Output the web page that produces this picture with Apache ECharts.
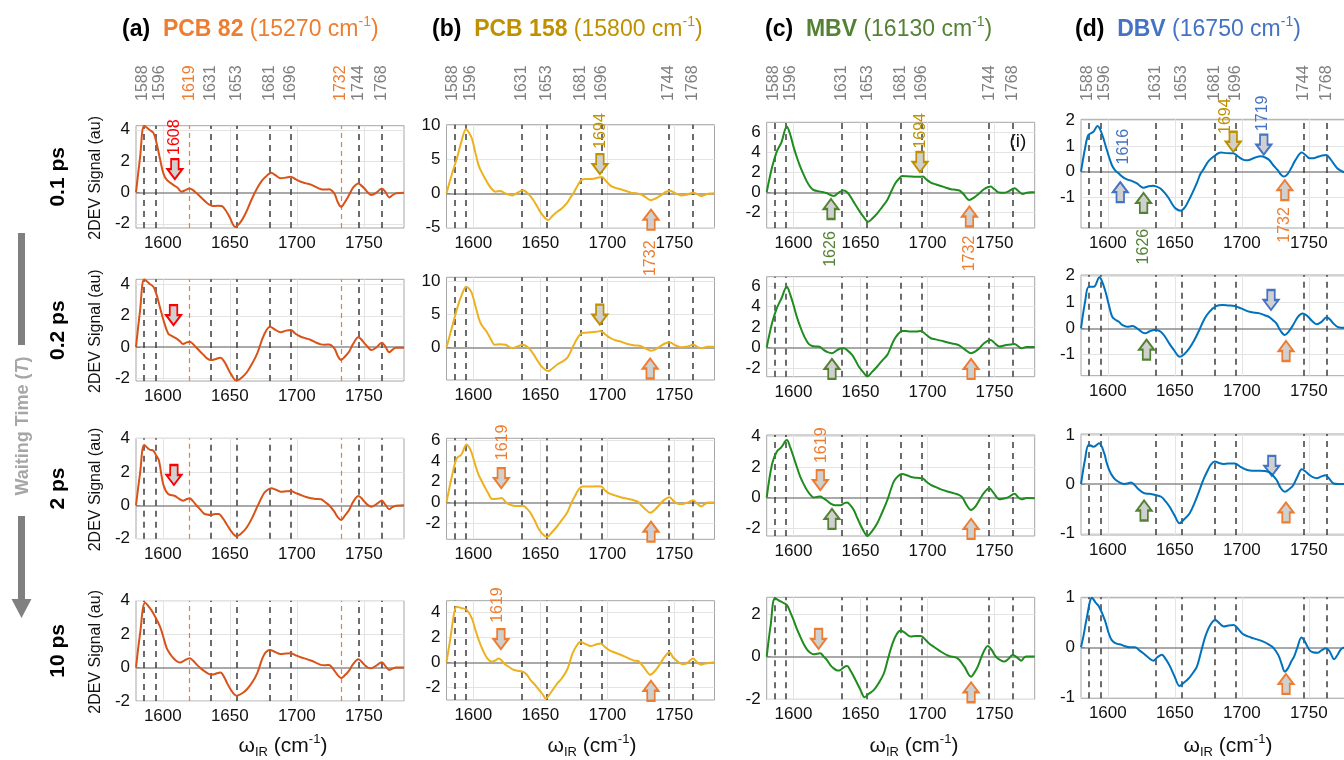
<!DOCTYPE html>
<html><head><meta charset="utf-8">
<script src="https://cdn.jsdelivr.net/npm/echarts@6/dist/echarts.min.js"></script>
<style>html,body{margin:0;padding:0;background:#fff}#c{width:1344px;height:760px}</style>
</head><body><div id="c"></div>
<script>
const FONT = '"Liberation Sans", Arial, sans-serif';
const X_MIN = 1580, X_MAX = 1780;
const xTicks = [1600, 1650, 1700, 1750];
const peakPos = [1586, 1594.5, 1620, 1636, 1655, 1680, 1695.5, 1733, 1746, 1763.5];
const peakLabels = ['1588','1596','1619','1631','1653','1681','1696','1732','1744','1768'];
const orangePeaks = ['1619','1732'];
const columnNames = ['(a)','(b)','(c)','(d)'];
const samples = ['PCB 82','PCB 158','MBV','DBV'];
const excitations = ['15270','15800','16130','16750'];
const waitingTimes = ['0.1 ps','0.2 ps','2 ps','10 ps'];

// PCB 82
const a1 = [[1580,0],[1583,2.2],[1586.2,4.26],[1590,4.0],[1593,3.8],[1595.5,3.1],[1598,2.1],[1600.5,1.2],[1603,0.8],[1608,0.47],[1611,0.3],[1614,0.05],[1617,0.15],[1620,0.25],[1622.5,0.15],[1625.5,-0.07],[1629,-0.35],[1632,-0.6],[1635,-0.8],[1638,-0.87],[1641,-0.85],[1644,-0.87],[1647,-1.15],[1650,-1.6],[1654,-2.2],[1658,-1.9],[1662,-1.3],[1666,-0.5],[1670,0.2],[1674,0.75],[1678,1.1],[1681,1.25],[1684,1.1],[1688,0.9],[1692,0.95],[1695.5,1.0],[1699,0.85],[1703,0.68],[1707,0.58],[1710.5,0.5],[1714,0.35],[1718,0.2],[1721,0.18],[1724,0.2],[1728,-0.07],[1730.5,-0.6],[1733,-0.92],[1736,-0.6],[1739,-0.17],[1742,0.3],[1746,0.57],[1748,0.45],[1750.5,0.25],[1753,0.0],[1755.5,-0.17],[1759,-0.05],[1763.5,0.25],[1766,0.05],[1769,-0.32],[1771,-0.2],[1774,-0.06],[1777,-0.03],[1780,-0.02]];
const a2 = [[1580,0],[1583,2.3],[1586.2,4.33],[1590,4.05],[1593,3.85],[1595.5,3.3],[1598,2.5],[1600.5,1.72],[1604,0.87],[1607,0.7],[1610,0.55],[1613,0.35],[1615,0.19],[1618,0.3],[1620,0.34],[1622.5,0.2],[1625.5,-0.08],[1628,-0.3],[1630.5,-0.51],[1633,-0.72],[1636,-0.83],[1639,-0.78],[1643,-0.68],[1646,-0.95],[1648,-1.26],[1651,-1.75],[1655,-2.15],[1659,-1.95],[1663,-1.58],[1667,-1.0],[1670.5,-0.4],[1675.5,0.77],[1680,1.3],[1684,1.1],[1688,0.94],[1692,1.05],[1695.5,1.09],[1699,0.85],[1703,0.66],[1707,0.55],[1710.5,0.45],[1714,0.3],[1718,0.17],[1721,0.15],[1724,0.17],[1728,-0.08],[1730.5,-0.55],[1733,-0.83],[1736,-0.6],[1739,-0.3],[1742,0.2],[1746,0.62],[1748,0.5],[1750.5,0.24],[1753,0.0],[1755.5,-0.19],[1759,-0.05],[1763.5,0.27],[1766,0.05],[1769,-0.34],[1771,-0.2],[1774,-0.04],[1777,-0.04],[1780,-0.04]];
const a3 = [[1580,0],[1583,1.9],[1586.2,3.62],[1590,3.35],[1593,3.28],[1595,3.0],[1597,2.72],[1600.5,1.22],[1604,0.68],[1609,0.56],[1612,0.4],[1615,0.28],[1618,0.38],[1620,0.42],[1622.5,0.25],[1625.5,-0.04],[1628,-0.25],[1630.5,-0.48],[1633,-0.55],[1636,-0.58],[1639,-0.52],[1641.7,-0.52],[1645,-0.8],[1648,-1.18],[1651,-1.55],[1655,-1.84],[1659,-1.65],[1663,-1.28],[1667,-0.7],[1670.5,-0.08],[1675.5,0.72],[1678,0.92],[1681,1.02],[1684,0.95],[1688,0.82],[1692,0.84],[1695.5,0.86],[1699,0.75],[1703,0.62],[1707,0.5],[1710.5,0.42],[1714,0.38],[1718,0.36],[1721,0.2],[1724,0.02],[1728,-0.38],[1730.5,-0.7],[1733,-0.88],[1736,-0.6],[1739,-0.28],[1742,0.2],[1746,0.56],[1748,0.45],[1750.5,0.22],[1753,0.02],[1755.5,-0.08],[1759,0.05],[1763.5,0.28],[1766,0.05],[1769,-0.24],[1771,-0.12],[1774,-0.02],[1780,0]];
const a4 = [[1580,0],[1583,2.0],[1586.8,3.88],[1590,3.6],[1593,3.23],[1598,2.43],[1600.5,1.8],[1603,1.15],[1606,0.75],[1608,0.56],[1611,0.35],[1613,0.3],[1616,0.42],[1620,0.56],[1622.5,0.42],[1625.5,0.16],[1628,-0.02],[1630.5,-0.18],[1633,-0.32],[1636,-0.43],[1639,-0.38],[1643,-0.3],[1646,-0.6],[1648,-0.93],[1651,-1.35],[1655,-1.68],[1659,-1.55],[1663,-1.28],[1667,-0.85],[1670.5,-0.33],[1675.5,0.75],[1680,1.05],[1684,0.92],[1688,0.81],[1692,0.84],[1695.5,0.85],[1699,0.74],[1703,0.62],[1707,0.52],[1710.5,0.42],[1714,0.3],[1718,0.16],[1721,0.14],[1724,0.16],[1728,-0.18],[1730.5,-0.45],[1733,-0.63],[1736,-0.45],[1739,-0.18],[1742,0.2],[1746,0.5],[1748,0.38],[1750.5,0.16],[1753,0.0],[1755.5,-0.04],[1759,0.1],[1763.5,0.32],[1766,0.1],[1769,-0.14],[1771,-0.08],[1774,0],[1780,0]];
// PCB 158
const b1 = [[1580,0],[1584,2.8],[1588,5.3],[1591,7.5],[1594.6,9.4],[1597,8.8],[1599,8.0],[1601.5,6.0],[1604,4.1],[1606.5,3.0],[1609,2.1],[1612,1.1],[1614.5,0.5],[1616.4,0.25],[1620,0.35],[1624,0.0],[1629,-0.3],[1633,0.1],[1637,0.45],[1641.4,-0.15],[1644.5,-0.9],[1647.6,-1.9],[1651,-3.0],[1655.9,-3.9],[1659,-3.3],[1662.6,-2.7],[1666,-2.2],[1670,-1.4],[1672.5,-0.6],[1675,0.1],[1678,1.2],[1681,2.0],[1684,2.1],[1687.6,2.1],[1692,2.25],[1696,2.4],[1699,1.8],[1702.6,1.1],[1706,0.8],[1710,0.6],[1714,0.35],[1717.6,0.1],[1722.6,0.0],[1727,-0.35],[1732.6,-1.0],[1736,-0.75],[1740,-0.3],[1743.5,0.2],[1747,0.35],[1751,0.0],[1755,-0.3],[1759,-0.2],[1764.4,0.1],[1767,-0.1],[1770,-0.4],[1773,-0.2],[1775,-0.05],[1780,0]];
const b2 = [[1580,0],[1584,3.0],[1588,5.96],[1591,7.8],[1594.8,9.24],[1597,8.9],[1599,8.2],[1602,6.0],[1605,3.9],[1608,2.9],[1610,2.4],[1613,1.3],[1616,0.4],[1620,0.5],[1624,0.4],[1629,-0.1],[1633,0.15],[1637,0.4],[1641.4,-0.1],[1644.5,-0.9],[1647.6,-1.9],[1651,-2.9],[1656,-3.6],[1659,-3.2],[1662.6,-2.6],[1666,-2.2],[1670,-1.6],[1672.5,-0.7],[1675,0.4],[1678,1.5],[1681,2.2],[1684,2.25],[1687.6,2.3],[1692,2.4],[1695,2.5],[1699,1.9],[1702.6,1.4],[1706,1.1],[1710,0.9],[1714,0.6],[1717.6,0.4],[1721,0.3],[1724,0.25],[1728,-0.1],[1732.6,-0.5],[1736,-0.3],[1740,0.25],[1743,0.6],[1746.6,0.8],[1750,0.4],[1755,0.05],[1759,0.1],[1764.4,0.4],[1767,0.1],[1770,-0.1],[1775,0.1],[1780,0.1]];
const b3 = [[1580,0],[1584,2.5],[1587.6,4.26],[1591,4.6],[1595,5.6],[1597,5.3],[1599,4.7],[1601.5,3.6],[1604,2.66],[1606.5,2.0],[1609,1.38],[1611.5,0.8],[1614,0.32],[1617.5,0.35],[1621,0.42],[1625,-0.06],[1630,-0.32],[1634,-0.35],[1637,-0.32],[1640,-0.6],[1642.6,-1.0],[1646,-1.8],[1649,-2.6],[1652,-3.1],[1655,-3.33],[1658.5,-2.9],[1662.6,-2.3],[1666,-1.7],[1670,-1.0],[1673,-0.1],[1676.4,0.74],[1679,1.3],[1681.4,1.54],[1687.7,1.54],[1692,1.55],[1695.6,1.54],[1698,1.2],[1701,0.9],[1705,0.7],[1710,0.5],[1715,0.35],[1720,0.2],[1723,0.05],[1725,-0.22],[1728,-0.6],[1732,-1.0],[1735.5,-0.7],[1739,-0.22],[1742.5,0.25],[1746.4,0.5],[1749,0.2],[1752.6,-0.13],[1756,-0.15],[1759,-0.06],[1764,0.2],[1767,-0.1],[1770,-0.4],[1773,-0.15],[1775,0],[1780,0]];
const b4 = [[1580,0],[1583,2.0],[1585.5,3.8],[1587.6,4.45],[1591,4.35],[1595,4.2],[1599,3.5],[1601.5,2.6],[1604,1.8],[1607,1.0],[1610.6,0.3],[1614,0.05],[1616.5,0.15],[1619,0.3],[1621.5,0.1],[1624,-0.2],[1627,-0.4],[1630,-0.6],[1634,-0.7],[1637,-0.75],[1640,-1.0],[1642.6,-1.4],[1646,-1.8],[1649,-2.2],[1652,-2.6],[1654,-2.9],[1658,-2.4],[1662.6,-1.7],[1666,-1.3],[1670,-0.6],[1672,0.0],[1674,0.7],[1677,1.3],[1680,1.65],[1684,1.45],[1687.7,1.3],[1691,1.4],[1695,1.5],[1698,1.25],[1701,1.0],[1705,0.8],[1710,0.6],[1715,0.35],[1720,0.13],[1723,0.1],[1725,-0.1],[1728,-0.5],[1732,-1.0],[1735.5,-0.7],[1739,-0.2],[1742.5,0.4],[1746.4,0.8],[1749,0.4],[1752.6,0.05],[1756,-0.15],[1759,-0.1],[1764,0.3],[1767,0.0],[1770,-0.2],[1773,-0.1],[1780,0]];
// MBV
const c1 = [[1580,0],[1584,2.5],[1587.5,4.07],[1591,5.0],[1595,6.57],[1597.5,5.8],[1600,4.57],[1602.5,3.5],[1605,2.57],[1607.5,1.8],[1610,1.07],[1612.5,0.55],[1615,0.23],[1620,0.07],[1625,-0.1],[1628,-0.3],[1630,-0.37],[1634,0.0],[1637.5,0.17],[1640,0.0],[1642.5,-0.43],[1645.5,-1.1],[1648.7,-1.77],[1652,-2.4],[1655.7,-2.95],[1659,-2.6],[1662.5,-2.1],[1666,-1.5],[1670,-0.77],[1673,0.1],[1676,0.9],[1679,1.4],[1681,1.63],[1685,1.6],[1688.7,1.57],[1693,1.55],[1696.7,1.57],[1699,1.3],[1702.5,0.97],[1706,0.8],[1710,0.63],[1714,0.45],[1717.5,0.3],[1721,0.25],[1724,0.17],[1727,-0.2],[1731,-0.77],[1735,-0.5],[1738.7,-0.1],[1742,0.3],[1747,0.57],[1750,0.3],[1753.5,-0.03],[1757,-0.05],[1760,0.07],[1765,0.4],[1768,0.1],[1771,-0.17],[1774,-0.05],[1777,0],[1780,0]];
const c2 = [[1580,0],[1584,2.4],[1587.5,3.84],[1591,4.8],[1595,5.95],[1597.5,5.2],[1600,4.16],[1602.5,3.0],[1605,2.05],[1608,1.1],[1611,0.42],[1614,0.15],[1617.5,0.1],[1620,0.05],[1622.5,-0.23],[1625.5,-0.45],[1628.7,-0.55],[1632,-0.3],[1635,-0.1],[1637.5,-0.07],[1640,-0.25],[1643.7,-0.72],[1646,-1.2],[1648.7,-1.85],[1652,-2.4],[1655,-2.83],[1658.5,-2.4],[1662.5,-1.85],[1666,-1.3],[1670,-0.72],[1672.5,0.0],[1675,0.75],[1678,1.3],[1681,1.63],[1685,1.6],[1688.7,1.56],[1692,1.58],[1695,1.63],[1699,1.25],[1702.5,0.91],[1706,0.8],[1710,0.68],[1715,0.5],[1720,0.36],[1723,0.25],[1725,0.1],[1728.5,-0.25],[1732.5,-0.55],[1736,-0.35],[1738.7,-0.07],[1742,0.4],[1747,0.75],[1750,0.45],[1753.7,0.1],[1756,0.15],[1758.7,0.26],[1762,0.3],[1765,0.36],[1767.5,0.15],[1770,-0.07],[1774,0.05],[1780,0.05]];
const c3 = [[1580,0],[1584,2.2],[1587.5,3.0],[1591,3.3],[1595,3.76],[1597.5,3.3],[1600,2.67],[1602.5,2.0],[1605,1.37],[1607.5,0.9],[1610,0.5],[1612.5,0.2],[1615,0.02],[1617.5,0.05],[1620,0.07],[1622.5,-0.05],[1625,-0.2],[1628,-0.4],[1631,-0.5],[1635,-0.5],[1638,-0.35],[1640,-0.31],[1642.5,-0.5],[1645,-0.8],[1647.5,-1.3],[1650,-1.78],[1652.5,-2.2],[1655,-2.5],[1658.5,-2.2],[1662.5,-1.67],[1666,-1.0],[1670,-0.16],[1672.5,0.5],[1675,1.08],[1678,1.4],[1681,1.54],[1685,1.45],[1688.7,1.33],[1692,1.3],[1696.5,1.26],[1699,1.05],[1702.5,0.83],[1706,0.7],[1710,0.54],[1715,0.4],[1720,0.28],[1723,0.2],[1726,0.02],[1729,-0.45],[1732.5,-0.8],[1735.5,-0.6],[1738.7,-0.16],[1742,0.3],[1746.2,0.61],[1749,0.35],[1753.7,-0.11],[1757,-0.05],[1760,0.02],[1765,0.25],[1767.5,0.05],[1770,-0.11],[1774,-0.02],[1780,-0.04]];
const c4 = [[1580,0],[1583,1.5],[1586.2,2.73],[1590,2.6],[1595,2.42],[1597.5,2.1],[1600,1.72],[1602.5,1.3],[1605,0.94],[1607.5,0.6],[1610,0.34],[1612.5,0.18],[1615,0.11],[1617.5,0.13],[1620,0.16],[1622.5,0.0],[1625,-0.16],[1627.5,-0.4],[1630,-0.55],[1633,-0.65],[1635,-0.63],[1637.5,-0.5],[1640,-0.44],[1642.5,-0.65],[1645,-0.94],[1647.5,-1.25],[1650,-1.56],[1653,-1.9],[1656,-1.75],[1660,-1.56],[1663.5,-1.25],[1667.5,-0.78],[1670.5,-0.1],[1674,0.63],[1677,1.05],[1680,1.22],[1683.5,1.1],[1687.5,0.94],[1691,0.97],[1695,0.97],[1698,0.82],[1701,0.63],[1705,0.45],[1710,0.23],[1716,0.03],[1722.5,-0.08],[1727.5,-0.47],[1732.5,-0.94],[1735,-0.75],[1737.5,-0.47],[1741,0.1],[1745,0.5],[1748,0.3],[1751,0.0],[1754,-0.15],[1757.5,-0.23],[1760.5,-0.1],[1763.7,0.08],[1767,-0.05],[1770,-0.19],[1772,-0.05],[1774,0],[1780,0]];
// DBV
const d1 = [[1580,0],[1583,0.9],[1585.5,1.42],[1589.3,1.55],[1592.3,1.77],[1595.5,1.48],[1599.3,0.84],[1603,0.26],[1605.5,0.05],[1608,-0.06],[1611,-0.2],[1614.3,-0.3],[1618,-0.36],[1621.8,-0.45],[1624,-0.55],[1626.8,-0.62],[1630,-0.57],[1633.8,-0.54],[1636.5,-0.58],[1639.3,-0.65],[1642.5,-0.82],[1645.5,-1.03],[1648,-1.25],[1650.5,-1.42],[1654.3,-1.51],[1657.5,-1.38],[1660.5,-1.1],[1663.5,-0.78],[1666.8,-0.39],[1669,-0.1],[1671.8,0.13],[1675,0.4],[1678.8,0.58],[1684.3,0.74],[1689,0.72],[1693.8,0.71],[1697,0.6],[1700.5,0.48],[1703,0.44],[1705.5,0.45],[1710,0.55],[1714.3,0.6],[1717.5,0.55],[1720.5,0.45],[1723.5,0.25],[1726.8,0.06],[1729,-0.1],[1731.3,-0.19],[1734,-0.1],[1736.8,0.13],[1740,0.45],[1744.8,0.74],[1747.5,0.65],[1750.5,0.52],[1753.5,0.52],[1756.8,0.58],[1760,0.63],[1763,0.65],[1766,0.5],[1769.3,0.26],[1772,0.1],[1775.5,0],[1778,-0.03],[1780,-0.04]];
const d2 = [[1580,0],[1583,1.0],[1585.8,1.58],[1589.5,1.58],[1593.8,1.94],[1596,1.75],[1598.3,1.39],[1601,0.85],[1603.3,0.44],[1606,0.32],[1608.3,0.25],[1611,0.12],[1614.5,0.06],[1618.3,0.09],[1620.5,0.05],[1623.3,-0.06],[1627.8,-0.19],[1631,-0.12],[1634.5,-0.06],[1637,-0.07],[1639.5,-0.13],[1642.5,-0.3],[1645.8,-0.57],[1649,-0.8],[1653.8,-1.08],[1657,-0.98],[1660.8,-0.76],[1664.5,-0.45],[1668.3,-0.06],[1672,0.35],[1675.8,0.63],[1680.8,0.85],[1685.8,0.89],[1690,0.87],[1694.5,0.85],[1699.5,0.76],[1705.8,0.63],[1713.3,0.57],[1717,0.5],[1720.8,0.42],[1723.5,0.3],[1725.8,0.19],[1729,-0.1],[1732,-0.25],[1735,-0.12],[1738.3,0.13],[1742,0.45],[1745.3,0.57],[1747.5,0.52],[1749.5,0.44],[1752.5,0.28],[1755.8,0.16],[1759.5,0.25],[1763.3,0.42],[1766,0.33],[1768.3,0.19],[1772,0.04],[1776,0.02],[1780,0.0]];
const d3 = [[1580,0],[1583,0.5],[1585.8,0.8],[1589.5,0.76],[1593.5,0.83],[1597.3,0.63],[1599,0.45],[1601,0.29],[1603.5,0.16],[1606,0.08],[1609,0.03],[1612.3,0],[1614.8,0.01],[1617.3,0.03],[1620,-0.02],[1622.3,-0.09],[1627.3,-0.19],[1631,-0.2],[1634.8,-0.22],[1639.8,-0.26],[1643,-0.35],[1646,-0.46],[1650,-0.65],[1653.5,-0.8],[1657,-0.72],[1661,-0.6],[1664.8,-0.38],[1668.5,-0.12],[1671.5,0.1],[1674.8,0.29],[1677,0.4],[1679.8,0.46],[1683,0.43],[1686,0.41],[1690,0.42],[1694.8,0.42],[1699,0.35],[1703.5,0.29],[1708,0.27],[1713.5,0.27],[1719.8,0.25],[1723,0.18],[1726,0.08],[1729,-0.08],[1732.3,-0.16],[1735.5,-0.1],[1738.5,-0.02],[1741.5,0.15],[1744.8,0.3],[1747.3,0.26],[1749.8,0.2],[1753,0.14],[1756,0.12],[1759,0.15],[1762.3,0.18],[1765.5,0.1],[1768.5,0.01],[1772,0],[1776,0],[1780,-0.01]];
const d4 = [[1580,0],[1582,0.25],[1584,0.55],[1588.3,1.0],[1591,0.9],[1593.5,0.82],[1597.8,0.55],[1600.5,0.3],[1602.8,0.15],[1606,0.08],[1610.3,0.05],[1613,0.02],[1616.5,0],[1620.3,0],[1623.5,-0.06],[1626.5,-0.12],[1630,-0.2],[1634,-0.27],[1637,-0.2],[1640.3,-0.15],[1643.5,-0.25],[1646.5,-0.39],[1650,-0.6],[1653.5,-0.78],[1656.5,-0.72],[1660.3,-0.63],[1663.5,-0.52],[1666.5,-0.39],[1669.5,-0.1],[1672.8,0.22],[1676.5,0.45],[1680.3,0.55],[1683.5,0.48],[1686.5,0.42],[1690,0.44],[1694,0.45],[1697,0.38],[1700.3,0.28],[1704.5,0.22],[1709,0.18],[1716.5,0.11],[1720,0.06],[1722.8,0.01],[1725.5,-0.08],[1727.8,-0.19],[1730,-0.36],[1732,-0.49],[1734.5,-0.42],[1737,-0.28],[1739,-0.19],[1741.5,0.0],[1744.5,0.2],[1747,0.12],[1750.3,-0.05],[1753,-0.1],[1756.5,-0.11],[1759.5,-0.06],[1762.8,-0.02],[1765.5,-0.08],[1769,-0.24],[1771.5,-0.15],[1774,-0.04],[1777,0],[1780,0]];

const curves = [[a1,b1,c1,d1],[a2,b2,c2,d2],[a3,b3,c3,d3],[a4,b4,c4,d4]];
const yRanges = [
  [[-2.27,4.26],[-5.07,10.05],[-3.57,7.0],[-2.18,2.03]],
  [[-2.17,4.33],[-4.95,10.67],[-2.85,6.93],[-1.8,2.03]],
  [[-2.0,4.02],[-3.56,6.19],[-2.5,4.09],[-1.04,1.02]],
  [[-2.0,4.0],[-3.02,4.93],[-2.0,2.78],[-1.03,1.01]]
];
const yTicks = [
  [[-2,0,2,4],[-5,0,5,10],[-2,0,2,4,6],[-1,0,1,2]],
  [[-2,0,2,4],[-5,0,5,10],[-2,0,2,4,6],[-1,0,1,2]],
  [[-2,0,2,4],[-2,0,2,4,6],[-2,0,2,4],[-1,0,1]],
  [[-2,0,2,4],[-2,0,2,4],[-2,0,2],[-1,0,1]]
];
// arrows: [panel, direction, x, y, colour key]
const arrows = [
  [0,'down',1609,1.49,'red'],[4,'down',1608,2.04,'red'],[8,'down',1608.3,1.82,'red'],
  [1,'down',1694.5,4.29,'gold'],[1,'up',1732.6,-3.85,'orange'],
  [5,'down',1694.4,5.0,'gold'],[5,'up',1732,-3.2,'orange'],
  [9,'down',1620.9,2.35,'orange'],[9,'up',1732.6,-2.82,'orange'],
  [13,'down',1620.6,1.86,'orange'],[13,'up',1732.6,-2.28,'orange'],
  [2,'up',1628,-1.67,'green'],[2,'down',1694.4,3.03,'gold'],[2,'up',1731.3,-2.42,'orange'],
  [6,'up',1628.7,-2.08,'green'],[6,'up',1732.5,-2.08,'orange'],
  [10,'down',1620,1.15,'orange'],[10,'up',1628.7,-1.38,'green'],[10,'up',1732.5,-2.03,'orange'],
  [14,'down',1618.7,0.83,'orange'],[14,'up',1732.5,-1.67,'orange'],
  [3,'up',1609.3,-0.79,'blue'],[3,'up',1626.7,-1.21,'green'],[3,'down',1693.6,1.16,'gold'],[3,'down',1716.4,1.05,'blue'],[3,'up',1732.1,-0.71,'orange'],
  [7,'up',1628.9,-0.81,'green'],[7,'down',1721.8,1.08,'blue'],[7,'up',1733,-0.86,'orange'],
  [11,'up',1627.1,-0.54,'green'],[11,'down',1722.4,0.37,'blue'],[11,'up',1733,-0.58,'orange'],
  [15,'up',1733,-0.74,'orange']
];
// rotated annotation texts: [panel, text, x, y, colour key]
const notes = [
  [0,'1608',1609,3.53,'red'],
  [1,'1694',1695,9.13,'gold'],[1,'1732',1732.6,-9.5,'orange'],
  [9,'1619',1621.6,5.79,'orange'],[13,'1619',1618.3,4.58,'orange'],
  [2,'1626',1628,-5.67,'green'],[2,'1694',1695,6.15,'gold'],[2,'1732',1731.3,-6.12,'orange'],
  [10,'1619',1620.7,3.42,'orange'],
  [3,'1616',1611.7,0.97,'blue'],[3,'1626',1626.7,-2.9,'green'],[3,'1694',1687.8,2.15,'gold'],[3,'1719',1715.5,2.26,'blue'],[3,'1732',1732.1,-2.06,'orange']
];

const COL = {red:'#FF0000', gold:'#BF9000', orange:'#ED7D31', green:'#548235', blue:'#4472C4'};
const lineColors = ['#D95319','#EDB120','#1E8C1E','#0072BD'];
const titleColors = ['#ED7D31','#BF9000','#548235','#4472C4'];
const ARROW_DOWN = 'path://M4,0 L12,0 L12,10 L16,10 L8,20 L0,10 L4,10 Z';
const ARROW_UP = 'path://M8,0 L16,10 L12,10 L12,20 L4,20 L4,10 L0,10 Z';

// layout
const colLeft = [136, 446.5, 766.7, 1081];
const PLOT_W = 268;
const tops = [[125.7,124.7,122.3,119.3],[279.3,277.3,276.7,275],[438.3,438.3,435,434],[600.7,600.7,597.3,597.3]];
const bottoms = [[228,228,228,228],[381,380,376.7,375.7],[538.7,539.3,536,535],[701,700,699.3,698.3]];
const labelNudge = {'1588': -1.5, '1596': 4.5};

const chart = echarts.init(document.getElementById('c'), null, {renderer:'canvas'});
const grids = [], xAxes = [], yAxes = [], series = [];
for (let r = 0; r < 4; r++) {
  for (let c = 0; c < 4; c++) {
    const p = r * 4 + c;
    const yr = yRanges[r][c], yt = yTicks[r][c];
    grids.push({left: colLeft[c], top: tops[r][c], width: PLOT_W, height: bottoms[r][c] - tops[r][c],
      show: true, borderColor: '#a6a6a6', borderWidth: 1, backgroundColor: 'rgba(0,0,0,0)', containLabel: false, outerBoundsMode: 'none'});
    xAxes.push({type: 'value', gridIndex: p, min: X_MIN, max: X_MAX,
      axisLine: {show: false}, splitLine: {show: false},
      axisTick: {show: true, inside: true, length: 4, customValues: xTicks, lineStyle: {color: '#777'}},
      axisLabel: {customValues: xTicks, fontSize: 17, color: '#111', fontFamily: FONT, margin: 7, formatter: v => String(v)}});
    yAxes.push({type: 'value', gridIndex: p, min: yr[0], max: yr[1],
      axisLine: {show: false}, splitLine: {show: false},
      axisTick: {show: true, inside: true, length: 4, customValues: yt, lineStyle: {color: '#777'}},
      axisLabel: {customValues: yt, fontSize: 17, color: '#111', fontFamily: FONT, margin: 6, formatter: v => String(v)}});
    const ml = [];
    xTicks.forEach(v => ml.push({xAxis: v, lineStyle: {color: '#e4e4e4', width: 1, type: 'solid'}}));
    yt.forEach(v => { if (v !== 0) ml.push({yAxis: v, lineStyle: {color: '#e4e4e4', width: 1, type: 'solid'}}); });
    ml.push({yAxis: 0, lineStyle: {color: '#8c8c8c', width: 1.5, type: 'solid'}});
    peakPos.forEach((v, i) => {
      const isO = orangePeaks.includes(peakLabels[i]);
      if (isO && c !== 0) return;
      ml.push({xAxis: v, lineStyle: isO ? {color: '#ED7D31', width: 1.2, type: [5, 4]} : {color: '#3c3c3c', width: 1.5, type: [6, 5]}});
    });
    series.push({type: 'line', xAxisIndex: p, yAxisIndex: p, data: curves[r][c], silent: true, z: 1,
      showSymbol: false, lineStyle: {opacity: 0}, animation: false,
      markLine: {silent: true, symbol: ['none', 'none'], label: {show: false}, animation: false, data: ml}});
    const mp = arrows.filter(a => a[0] === p).map(a => ({
      coord: [a[2], a[3]], symbol: a[1] === 'down' ? ARROW_DOWN : ARROW_UP, symbolSize: [15, 20],
      itemStyle: {color: '#d0d0d0', borderColor: COL[a[4]], borderWidth: 2}, label: {show: false}}));
    series.push({type: 'line', xAxisIndex: p, yAxisIndex: p, data: curves[r][c], showSymbol: false,
      smooth: 0.35, lineStyle: {color: lineColors[c], width: 2}, z: 5, animation: false, silent: true,
      markPoint: {silent: true, animation: false, data: mp}});
  }
}
chart.setOption({animation: false, grid: grids, xAxis: xAxes, yAxis: yAxes, series: series});

// text overlays
const toPx = (p, x, y) => chart.convertToPixel({seriesIndex: p * 2 + 1}, [x, y]);
const g = [];
function txt(x, y, text, color, size, opts) {
  opts = opts || {};
  return {type: 'text', x: x, y: y, rotation: opts.rot || 0, silent: true, z: 100,
    style: {text: text, fill: color, font: (opts.style || 'normal') + ' ' + (opts.weight || 'normal') + ' ' + size + 'px ' + FONT,
      textAlign: opts.align || 'center', align: opts.align || 'center',
      textVerticalAlign: opts.valign || 'middle', verticalAlign: opts.valign || 'middle'}};
}
function rich(x, y, text, richStyles, opts) {
  opts = opts || {};
  return {type: 'text', x: x, y: y, rotation: opts.rot || 0, silent: true, z: 100,
    style: {text: text, rich: richStyles, textAlign: opts.align || 'left', align: opts.align || 'left',
      textVerticalAlign: 'middle', verticalAlign: 'middle'}};
}
// column titles
const titleX = [122, 432, 765, 1075];
for (let c = 0; c < 4; c++) {
  const col = titleColors[c];
  g.push(rich(titleX[c], 30,
    '{k|' + columnNames[c] + '}{k|  }{b|' + samples[c] + '}{n| (' + excitations[c] + ' cm}{s|-1}{n|)}',
    {k: {fill: '#000', color: '#000', fontSize: 23, fontWeight: 'bold', fontFamily: FONT, lineHeight: 30},
     b: {fill: col, color: col, fontSize: 23, fontWeight: 'bold', fontFamily: FONT, lineHeight: 30},
     n: {fill: col, color: col, fontSize: 23, fontFamily: FONT, lineHeight: 30},
     s: {fill: col, color: col, fontSize: 14, fontFamily: FONT, lineHeight: 16, verticalAlign: 'top'}}));
}
// peak labels on top of first row
for (let c = 0; c < 4; c++) {
  peakPos.forEach((v, i) => {
    const lab = peakLabels[i];
    const isO = orangePeaks.includes(lab);
    if (isO && c !== 0) return;
    const pt = toPx(c, v, 0);
    g.push(txt(pt[0] + (labelNudge[lab] || 0), 101, lab, isO ? '#ED7D31' : '#7f7f7f', 16, {rot: Math.PI / 2, align: 'left'}));
  });
}
// annotation labels
notes.forEach(n => {
  const pt = toPx(n[0], n[2], n[3]);
  g.push(txt(pt[0], pt[1], n[1], COL[n[4]], 16, {rot: Math.PI / 2}));
});
{ const pt = toPx(2, 1767.5, 5.06); g.push(txt(pt[0], pt[1], '(i)', '#111', 19)); }
// row labels and y-axis names
for (let r = 0; r < 4; r++) {
  const yc = (tops[r][0] + bottoms[r][0]) / 2;
  g.push(txt(58, yc, waitingTimes[r], '#000', 21, {rot: Math.PI / 2, weight: 'bold'}));
  g.push(txt(96, yc + 1, '2DEV Signal (au)', '#111', 16, {rot: Math.PI / 2}));
}
// x-axis names
const xNameX = [283, 592, 914, 1228];
for (let c = 0; c < 4; c++) {
  g.push(rich(xNameX[c], 746, '{m|ω}{d|IR}{m| (cm}{u|-1}{m|)}',
    {m: {fill: '#111', color: '#111', fontSize: 21, fontFamily: FONT, lineHeight: 26},
     d: {fill: '#111', color: '#111', fontSize: 13, fontFamily: FONT, lineHeight: 12, verticalAlign: 'bottom'},
     u: {fill: '#111', color: '#111', fontSize: 13, fontFamily: FONT, lineHeight: 14, verticalAlign: 'top'}},
    {align: 'center'}));
}
// waiting time decoration
g.push({type: 'rect', shape: {x: 18, y: 233, width: 7, height: 112}, style: {fill: '#808080'}, silent: true});
g.push({type: 'polygon', shape: {points: [[18, 516], [25, 516], [25, 599], [31.5, 599], [21.5, 618], [11.5, 599], [18, 599]]}, style: {fill: '#808080'}, silent: true});
g.push(rich(23, 426, '{a|Waiting Time (}{b|T}{a|)}',
  {a: {fill: '#a6a6a6', color: '#a6a6a6', fontSize: 18, fontWeight: 'bold', fontFamily: FONT, lineHeight: 22},
   b: {fill: '#a6a6a6', color: '#a6a6a6', fontSize: 18, fontWeight: 'bold', fontStyle: 'italic', fontFamily: FONT, lineHeight: 22}},
  {rot: Math.PI / 2, align: 'center'}));

chart.setOption({graphic: {elements: g}});
</script></body></html>
